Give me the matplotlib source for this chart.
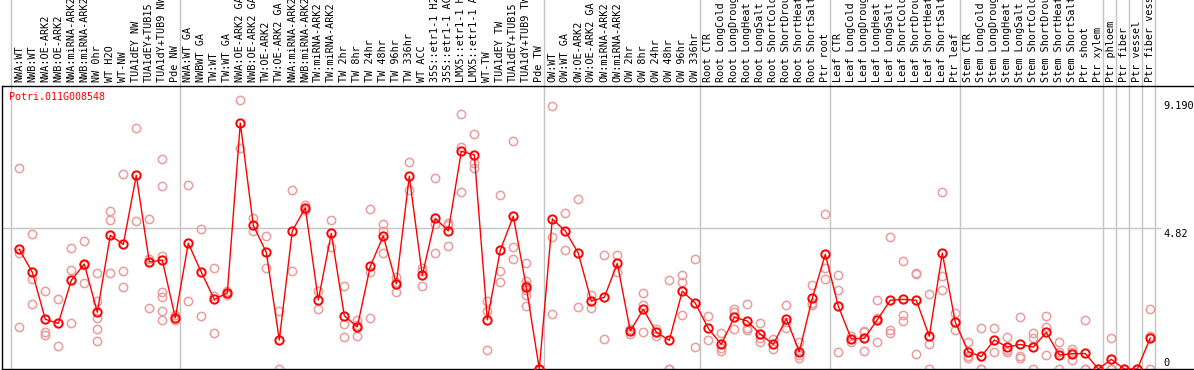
import matplotlib
matplotlib.use("Agg")
import matplotlib.pyplot as plt
import matplotlib.transforms as mtransforms

# ---------------- data ----------------
gene_id = "Potri.011G008548"

conditions = [
    "NWA:WT", "NWB:WT", "NWA:OE-ARK2", "NWB:OE-ARK2", "NWA:miRNA-ARK2", "NWB:miRNA-ARK2",
    "NW 0hr", "WT H2O", "WT-NW", "TUA1dEY NW", "TUA1dEY+TUB15", "TUA1dY+TUB9 NW", "Pde NW",
    "NWA:WT GA", "NWBWT GA", "TW:WT", "TW:WT GA", "NWA:OE-ARK2 GA", "NWB:OE-ARK2 GA",
    "TW:OE-ARK2", "TW:OE-ARK2 GA", "NWA:miRNA-ARK2", "NWB:miRNA-ARK2", "TW:miRNA-ARK2",
    "TW:miRNA-ARK2", "TW 2hr", "TW 8hr", "TW 24hr", "TW 48hr", "TW 96hr", "TW 336hr",
    "WT ACC", "35S::etr1-1 H2", "35S::etr1-1 AC", "LMX5::etr1-1 H", "LMX5::etr1-1 A",
    "WT-TW", "TUA1dEY TW", "TUA1dEY+TUB15", "TUA1dY+TUB9 TW", "Pde TW",
    "OW:WT", "OW:WT GA", "OW:OE-ARK2", "OW:OE-ARK2 GA", "OW:miRNA-ARK2", "OW:miRNA-ARK2",
    "OW 2hr", "OW 8hr", "OW 24hr", "OW 48hr", "OW 96hr", "OW 336hr",
    "Root CTR", "Root LongCold", "Root LongDroug", "Root LongHeat", "Root LongSalt",
    "Root ShortCold", "Root ShortDrou", "Root ShortHeat", "Root ShortSalt", "Ptr root",
    "Leaf CTR", "Leaf LongCold", "Leaf LongDroug", "Leaf LongHeat", "Leaf LongSalt",
    "Leaf ShortCold", "Leaf ShortDrou", "Leaf ShortHeat", "Leaf ShortSalt", "Ptr leaf",
    "Stem CTR", "Stem LongCold", "Stem LongDroug", "Stem LongHeat", "Stem LongSalt",
    "Stem ShortCold", "Stem ShortDrou", "Stem ShortHeat", "Stem ShortSalt", "Ptr shoot",
    "Ptr xylem", "Ptr phloem", "Ptr fiber", "Ptr vessel", "Ptr fiber vessel",
]

means = [
    4.09, 3.31, 1.70, 1.56, 3.03, 3.59, 1.94, 4.57, 4.26, 6.62, 3.66, 3.72, 1.75,
    4.30, 3.31, 2.38, 2.60, 8.41, 4.91, 3.99, 0.99, 4.72, 5.51, 2.36, 4.64, 1.82,
    1.44, 3.51, 4.55, 2.91, 6.59, 3.20, 5.15, 4.72, 7.44, 7.32, 1.68, 4.06, 5.22,
    2.80, 0.00, 5.13, 4.72, 3.96, 2.32, 2.45, 3.61, 1.30, 2.04, 1.26, 0.98, 2.66,
    2.25, 1.39, 0.84, 1.77, 1.64, 1.19, 0.84, 1.72, 0.59, 2.42, 3.92, 2.15, 1.03,
    1.05, 1.68, 2.35, 2.38, 2.35, 1.12, 3.96, 1.60, 0.59, 0.43, 0.99, 0.75, 0.84,
    0.75, 1.25, 0.48, 0.52, 0.53, 0.00, 0.33, 0.00, 0.00, 1.06,
]

replicates = [
    [6.86, 3.96, 1.43], [4.62, 3.09, 2.21], [2.66, 1.26, 1.16], [2.38, 0.78],
    [4.13, 3.37, 1.56], [4.37, 2.93, 3.55], [3.27, 2.32, 1.74, 1.36, 0.95],
    [5.40, 5.08, 3.27], [6.67, 3.34, 2.79], [8.23, 5.05], [5.12, 3.75, 2.07],
    [7.17, 6.25, 3.87, 2.63, 2.45, 1.97, 1.66], [1.85, 1.68], [6.28, 2.32],
    [4.78, 1.80], [3.44, 1.23, 2.51], [2.66, 2.53], [9.19, 7.57], [5.16, 4.72],
    [4.55, 3.44], [1.99, 0.00], [6.11, 3.34], [5.60, 5.45], [2.67, 2.05],
    [5.09, 4.18], [2.83, 1.53, 1.09], [1.68, 1.12, 1.52], [5.47, 3.33, 1.73],
    [4.95, 4.73, 3.96], [3.13, 2.62, 2.98], [7.07, 6.12], [3.44, 3.35, 2.83],
    [6.52, 4.96, 3.96], [4.98, 4.92, 4.19], [8.72, 7.60, 6.04], [8.05, 7.03, 6.86],
    [2.31, 1.99, 0.65], [5.94, 3.35, 2.97], [7.79, 4.16, 3.75],
    [3.61, 3.02, 2.87, 2.70, 2.54, 2.15], [0.00, 0.00], [8.99, 4.52, 1.88],
    [5.32, 4.06], [5.81, 2.12], [2.53, 2.10], [3.89, 1.03], [3.89, 3.33],
    [1.36, 1.21], [2.59, 2.18, 1.28], [1.36, 1.14], [3.03, 0.00, 0.00],
    [3.20, 2.96, 1.84], [3.75, 0.74], [1.80, 0.98], [1.22, 0.71, 0.63],
    [2.04, 1.96, 1.36], [2.21, 1.32, 1.39], [1.56, 1.05, 0.94], [1.02, 0.68],
    [2.18, 1.39, 1.60], [0.94, 0.48, 0.39], [2.86, 2.25, 2.18], [5.29, 3.46, 3.07],
    [3.20, 2.69, 0.58], [1.14, 0.92], [1.31, 1.25, 0.60], [2.35, 1.73, 0.91],
    [4.50, 1.32, 1.22], [3.68, 1.84, 1.64], [3.27, 3.24, 0.50], [2.56, 0.84, 0.00],
    [6.04, 3.17, 2.69], [1.93, 1.33], [0.91, 0.43, 0.37], [1.39, 0.00, 0.00],
    [1.39, 0.57], [1.08, 0.64, 0.57], [1.77, 0.45, 0.37], [1.22, 1.05, 0.00],
    [1.80, 1.43, 0.49], [0.91, 0.59, 0.00], [0.67, 0.59, 0.32], [1.66, 0.00, 0.00],
    [0.00], [1.05, 0.00, 0.00], [0.00], [0.00], [2.04, 1.14, 0.00],
]

# index of the last condition in each group (a separator is drawn after it)
group_ends = [-1, 12, 40, 52, 62, 72, 83, 84, 85, 86, 87]

y_labels = ["0", "4.82", "9.190"]
y_label_values = [0.0, 4.82, 9.19]
grid_value = 4.82

# ---------------- figure ----------------
W, H = 1194, 370
fig = plt.figure(figsize=(W / 100, H / 100), dpi=100)

ax_left_px, ax_right_px = 2, 1194
ax_top_px, ax_bot_px = 85.7, 369
ax = fig.add_axes([ax_left_px / W, (H - ax_bot_px) / H,
                   (ax_right_px - ax_left_px) / W, (ax_bot_px - ax_top_px) / H])

x0_px, dx_px = 19.3, 13.0
ax.set_xlim((ax_left_px - x0_px) / dx_px, (ax_right_px - x0_px) / dx_px)
px_per_unit = 29.25
ax.set_ylim(0, (ax_bot_px - ax_top_px) / px_per_unit)

ax.set_xticks([])
ax.set_yticks([])
for s in ["left", "bottom", "top"]:
    ax.spines[s].set_color("black")
    ax.spines[s].set_linewidth(1.0)
ax.spines["right"].set_visible(False)

mono = "DejaVu Sans Mono"
grey = "#c4c4c4"

# vertical separators (extend through header)
ext = ax_bot_px / (ax_bot_px - ax_top_px)
for g in group_ends:
    ax.axvline(g + 0.38, ymin=0, ymax=ext, color=grey, lw=1.0, clip_on=False, zorder=1)

# horizontal grid line
ax.axhline(grid_value, xmin=0, xmax=(1160 - ax_left_px) / (ax_right_px - ax_left_px),
           color=grey, lw=1.0, zorder=1)

# replicate points
rx, ry = [], []
for i, reps in enumerate(replicates):
    rx.extend([i] * len(reps))
    ry.extend(reps)
ax.plot(rx, ry, linestyle="none", marker="o", markersize=6, markerfacecolor="none",
        markeredgecolor="#eb9c9c", markeredgewidth=1.1, zorder=2)

# mean line
xs = list(range(len(means)))
ax.plot(xs, means, color="red", lw=1.0, marker="o", markersize=6,
        markerfacecolor="none", markeredgecolor="red", markeredgewidth=1.4, zorder=3)

# condition labels in header
for i, lab in enumerate(conditions):
    ax.annotate(lab, xy=(i, 1), xycoords=("data", "axes fraction"),
                xytext=(0, 2.4), textcoords="offset points", rotation=90,
                ha="center", va="bottom", fontsize=7.3, family=mono,
                color="black", annotation_clip=False)

# gene id
ax.text(0.0062, 0.961, gene_id, transform=ax.transAxes, color="red",
        fontsize=7.2, family=mono, ha="left", va="center")

# right-hand value labels
trans = mtransforms.blended_transform_factory(ax.transAxes, ax.transData)
xl = (1163 - ax_left_px) / (ax_right_px - ax_left_px)
for lab, v in zip(y_labels, y_label_values):
    va = "bottom" if v == 0 else "top"
    ax.text(xl, v + (0.05 if v == 0 else -0.02), lab, transform=trans, fontsize=7.4,
            family=mono, ha="left", va=va, color="black")

fig.savefig("out.png", dpi=100)
